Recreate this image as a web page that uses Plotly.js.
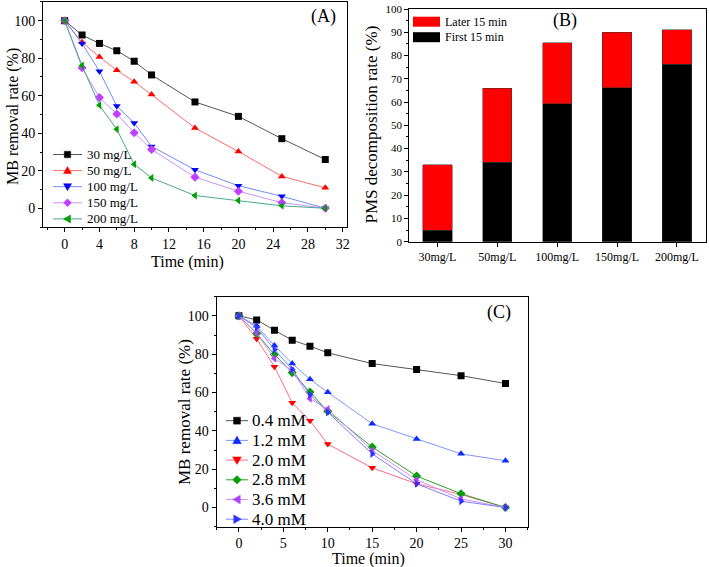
<!DOCTYPE html>
<html>
<head>
<meta charset="utf-8">
<script src="https://cdn.plot.ly/plotly-3.0.1.min.js"></script>
<style>html,body{margin:0;padding:0;background:#fff;}#chart{width:709px;height:567px;}</style>
</head>
<body>
<div id="chart"></div>
<script>
// Panel A: MB removal vs time at various PMS doses
const timeA = [0, 2, 4, 6, 8, 10, 15, 20, 25, 30];
const namesA = ["30 mg/L", "50 mg/L", "100 mg/L", "150 mg/L", "200 mg/L"];
const a30 = [100, 92.4, 87.9, 84, 78.4, 71.1, 56.7, 49, 37.1, 26];
const a50 = [100, 88.5, 80.7, 73.6, 67.5, 60.6, 42.8, 30.3, 17, 10.9];
const a100 = [100, 87.9, 73.1, 54.5, 45.5, 33, 20.5, 12, 6.4, 0];
const a150 = [100, 74.9, 59, 50.3, 40.3, 31.4, 16.6, 9.1, 3, 0];
const a200 = [100, 76.1, 54.9, 42.1, 23.5, 16.2, 6.8, 4.1, 1.3, 0];

// Panel B: PMS decomposition rate
const catsB = ["30mg/L", "50mg/L", "100mg/L", "150mg/L", "200mg/L"];
const namesB = ["First 15 min", "Later 15 min"];
const first15 = [5, 34.1, 59.2, 66.2, 76.2];
const later15 = [28, 31.9, 26.3, 23.8, 14.9];

// Panel C: MB removal vs time at various concentrations
const timeC = [0, 2, 4, 6, 8, 10, 15, 20, 25, 30];
const namesC = ["0.4 mM", "1.2 mM", "2.0 mM", "2.8 mM", "3.6 mM", "4.0 mM"];
const c04 = [100, 97.9, 92.5, 87.3, 84.2, 80.7, 75.1, 72, 68.8, 64.7];
const c12 = [100, 94.8, 84.5, 75.1, 66.9, 60.1, 43.7, 35.7, 28, 24.4];
const c20 = [100, 88, 73.5, 54.7, 45.3, 33.1, 20.7, 12.4, 6.8, 0];
const c28 = [100, 90.8, 79.8, 70.4, 60.3, 50.2, 31.5, 16.4, 7.2, 0];
const c36 = [100, 91, 77.7, 71.6, 56.8, 51.4, 29.8, 14.5, 4.5, 0];
const c40 = [100, 94, 82.4, 72, 58.9, 49.7, 28, 12.4, 3.3, 0];

// Titles
const titleTime = "Time (min)";
const titleMB = "MB removal rate (%)";
const titlePMS = "PMS decomposition rate (%)";

// Styles (kept separate from data)
const symA = ["square", "triangle-up", "triangle-down", "diamond", "triangle-left"];
const mcolA = ["#000000", "#ff0000", "#0000ff", "#c040ff", "#00a000"];
const lcolA = ["#555555", "#ff6a6a", "#6f8cff", "#c890ff", "#4aa88a"];
const symC = ["square", "triangle-up", "triangle-down", "diamond", "triangle-left", "triangle-right"];
const mcolC = ["#000000", "#0a2cff", "#ff0000", "#00a000", "#b040ff", "#3030ff"];
const lcolC = ["#555555", "#7d96ff", "#ff6a8a", "#30a030", "#d090ff", "#8080ff"];
const colB = ["#000000", "#ff0000"];

const FONT = "Liberation Serif, Times New Roman, serif";
const W = 709, H = 567;
const px = v => v / W, py = v => 1 - v / H;

function lineTrace(x, y, name, mk, mcol, lcol, xa, ya) {
  return {
    x: x, y: y, name: name, type: "scatter", mode: "lines+markers",
    xaxis: xa, yaxis: ya, showlegend: false,
    line: {color: lcol, width: 1},
    marker: {symbol: mk, color: mcol, size: 7}
  };
}

const seriesA = [a30, a50, a100, a150, a200];
const seriesC = [c04, c12, c20, c28, c36, c40];
const traces = [];
seriesA.forEach((s, i) => traces.push(lineTrace(timeA, s, namesA[i], symA[i], mcolA[i], lcolA[i], "x", "y")));
traces.push({x: catsB, y: first15, name: namesB[0], type: "bar", xaxis: "x2", yaxis: "y2", showlegend: false,
   marker: {color: colB[0], line: {color: "#333", width: 0.5}}, width: 0.49});
traces.push({x: catsB, y: later15, name: namesB[1], type: "bar", xaxis: "x2", yaxis: "y2", showlegend: false,
   marker: {color: colB[1], line: {color: "#333", width: 0.5}}, width: 0.49});
seriesC.forEach((s, i) => traces.push(lineTrace(timeC, s, namesC[i], symC[i], mcolC[i], lcolC[i], "x3", "y3")));

// manual legend helpers (pixel positions -> paper)
function markerPath(sym, cx, cy, r) {
  let pts;
  if (sym === "square") pts = [[-r*0.8,-r*0.8],[r*0.8,-r*0.8],[r*0.8,r*0.8],[-r*0.8,r*0.8]];
  else if (sym === "triangle-up") pts = [[0,-r],[r,r*0.75],[-r,r*0.75]];
  else if (sym === "triangle-down") pts = [[0,r],[r,-r*0.75],[-r,-r*0.75]];
  else if (sym === "triangle-left") pts = [[-r,0],[r*0.75,-r],[r*0.75,r]];
  else if (sym === "triangle-right") pts = [[r,0],[-r*0.75,-r],[-r*0.75,r]];
  else pts = [[0,-r],[r,0],[0,r],[-r,0]];
  return "M" + pts.map(p => px(cx + p[0]) + "," + py(cy + p[1])).join("L") + "Z";
}
const shapes = [], annotations = [];
function addLegend(names, syms, mcols, lcols, x0, x1, tx, y0, dy, fsize, r) {
  names.forEach((n, i) => {
    const y = y0 + dy * i;
    shapes.push({type: "line", xref: "paper", yref: "paper", x0: px(x0), x1: px(x1), y0: py(y), y1: py(y),
      line: {color: lcols[i], width: 1}});
    shapes.push({type: "path", xref: "paper", yref: "paper", path: markerPath(syms[i], (x0 + x1) / 2, y, r),
      fillcolor: mcols[i], line: {color: mcols[i], width: 0.5}});
    annotations.push({text: n, xref: "paper", yref: "paper", x: px(tx), y: py(y), xanchor: "left", yanchor: "middle",
      showarrow: false, font: {family: FONT, size: fsize, color: "#000"}});
  });
}
addLegend(namesA, symA, mcolA, lcolA, 53, 82, 85, 154.5, 16.1, 13, 4);
addLegend(namesC, symC, mcolC, lcolC, 226, 248, 250, 420.7, 19.7, 17, 4.3);
// legend B (Later first, then First)
[[1, 21.7], [0, 37.2]].forEach(([k, y]) => {
  shapes.push({type: "rect", xref: "paper", yref: "paper", x0: px(413), x1: px(440), y0: py(y - 5), y1: py(y + 5),
    fillcolor: colB[k], line: {width: 0}});
  annotations.push({text: namesB[k], xref: "paper", yref: "paper", x: px(443), y: py(y), xanchor: "left", yanchor: "middle",
    showarrow: false, font: {family: FONT, size: 12, color: "#000"}});
});

[["(A)", 323, 17], ["(B)", 565, 21], ["(C)", 499, 312]].forEach(([t, x, y]) => {
  annotations.push({text: t, xref: "paper", yref: "paper", x: px(x), y: py(y), showarrow: false,
    font: {family: FONT, size: 18, color: "#000"}, xanchor: "center", yanchor: "middle"});
});

// axis titles placed as annotations
[[titleTime, 188, 261.5, 0, 16], [titleMB, 13, 117, -90, 16], [titlePMS, 371.5, 125, -90, 17],
 [titleTime, 368, 559, 0, 16], [titleMB, 184, 412, -90, 17]].forEach(([t, x, y, a, s]) => {
  annotations.push({text: t, xref: "paper", yref: "paper", x: px(x), y: py(y), showarrow: false, textangle: a,
    font: {family: FONT, size: s, color: "#000"}, xanchor: "center", yanchor: "middle"});
});

const axBase = {
  showline: true, mirror: true, linecolor: "#000", linewidth: 1,
  showgrid: false, zeroline: false, ticks: "outside", ticklen: 4, tickcolor: "#000",
  tickfont: {family: FONT, size: 14, color: "#000"}
};
function ax(o) { return Object.assign({}, JSON.parse(JSON.stringify(axBase)), o); }

const layout = {
  width: W, height: H, margin: {l: 0, r: 0, t: 0, b: 0},
  paper_bgcolor: "#fff", plot_bgcolor: "#fff",
  font: {family: FONT, color: "#000"},
  barmode: "stack", showlegend: false,
  xaxis: ax({domain: [0.0606, 0.4894], range: [-2.5, 32.5], tickvals: [0,4,8,12,16,20,24,28,32],
    minor: {dtick: 2, tick0: 0, ticks: "outside", ticklen: 2, tickcolor: "#000"}, anchor: "y"}),
  yaxis: ax({domain: [0.5996, 0.9965], range: [-10, 110], tickvals: [0,20,40,60,80,100],
    minor: {dtick: 10, tick0: 0, ticks: "outside", ticklen: 2, tickcolor: "#000"}, anchor: "x"}),
  xaxis2: ax({domain: [0.5773, 0.9953], range: [-0.47, 4.48], anchor: "y2",
    tickfont: {family: FONT, size: 12, color: "#000"}}),
  yaxis2: ax({domain: [0.5737, 0.9841], range: [0, 100], dtick: 10, anchor: "x2",
    tickfont: {family: FONT, size: 11, color: "#000"},
    minor: {dtick: 5, ticks: "outside", ticklen: 2, tickcolor: "#000"}}),
  xaxis3: ax({domain: [0.3056, 0.7443], range: [-2.5, 32.5], tickvals: [0,5,10,15,20,25,30],
    minor: {dtick: 2.5, tick0: 0, ticks: "outside", ticklen: 2, tickcolor: "#000"}, anchor: "y3"}),
  yaxis3: ax({domain: [0.0711, 0.4767], range: [-10, 110], tickvals: [0,20,40,60,80,100],
    minor: {dtick: 10, tick0: 0, ticks: "outside", ticklen: 2, tickcolor: "#000"}, anchor: "x3"}),
  shapes: shapes,
  annotations: annotations
};

Plotly.newPlot("chart", traces, layout, {displayModeBar: false, staticPlot: true});
</script>
</body>
</html>
